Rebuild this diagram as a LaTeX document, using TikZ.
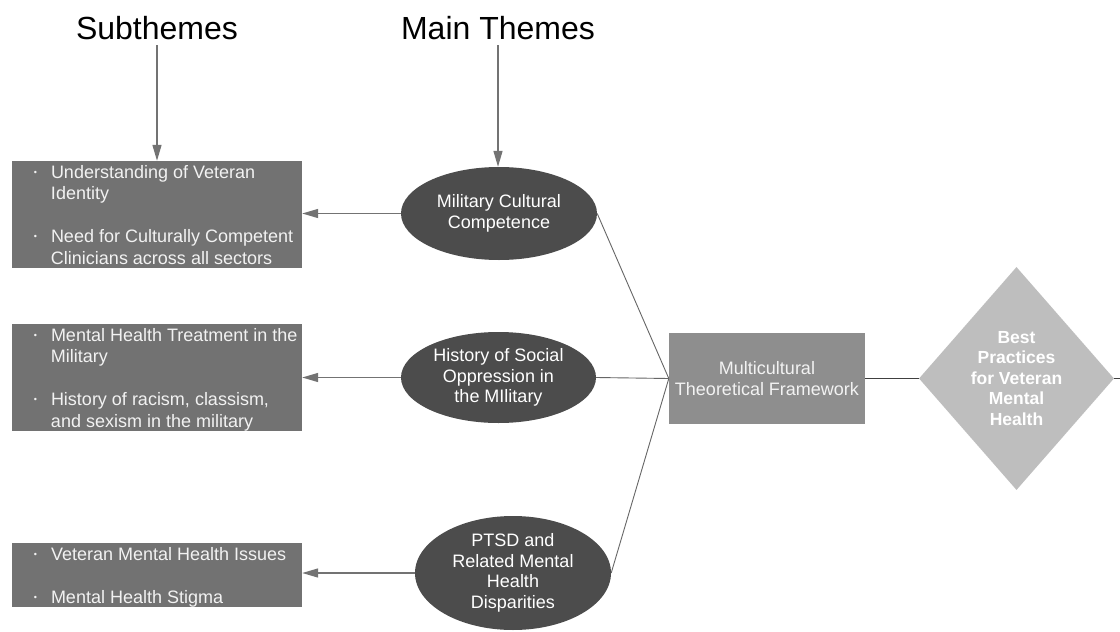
\documentclass[tikz,border=0pt]{standalone}
\usepackage{fontspec}
\setmainfont{Liberation Sans}
\usetikzlibrary{shapes.geometric,arrows.meta}
\definecolor{subbox}{HTML}{727272}
\definecolor{mainell}{HTML}{4C4C4C}
\definecolor{mtfbox}{HTML}{8E8E8E}
\definecolor{bestdia}{HTML}{BEBEBE}
\definecolor{arrowgray}{HTML}{737373}
\definecolor{boxtext}{HTML}{F2F2F2}
\newcommand{\bul}{\raisebox{0.3ex}{\fontsize{9}{9}\selectfont •}}
\begin{document}
\begin{tikzpicture}[x=1pt,y=-1pt,
  titletext/.style={font=\fontsize{32}{36}\selectfont, text=black, inner sep=0},
  subrect/.style={rectangle, fill=subbox, minimum width=290pt, inner sep=0},
  subtext/.style={anchor=west, inner sep=0, text=boxtext, font=\fontsize{18}{21.5}\selectfont},
  mainell/.style={ellipse, fill=mainell, minimum width=196pt, inner sep=0, text=white, align=center, font=\fontsize{18}{20.5}\selectfont},
  garrow/.style={draw=arrowgray, line width=1.4pt, -{Triangle[length=16pt,width=9pt]}},
  conv/.style={draw=black!60, line width=0.9pt},
]
\useasboundingbox (0,0) rectangle (1120,632);
\fill[white] (0,0) rectangle (1120,632);

% titles
\node[titletext] (tsub) at (157,28) {Subthemes};
\node[titletext] (tmain) at (498,28) {Main Themes};

% subtheme boxes
\node[subrect, minimum height=107pt] (b1) at (157,214.5) {};
\node[subtext] (b1t) at ([xshift=22pt,yshift=-2.5pt]b1.west) {\begin{tabular}{@{}p{17pt}@{}l@{}}
\bul & Understanding of Veteran\\
 & Identity\\[21.5pt]
\bul & Need for Culturally Competent\\
 & Clinicians across all sectors
\end{tabular}};

\node[subrect, minimum height=107pt] (b2) at (157,377.5) {};
\node[subtext] (b2t) at ([xshift=22pt,yshift=-2.5pt]b2.west) {\begin{tabular}{@{}p{17pt}@{}l@{}}
\bul & Mental Health Treatment in the\\
 & Military\\[21.5pt]
\bul & History of racism, classism,\\
 & and sexism in the military
\end{tabular}};

\node[subrect, minimum height=64pt] (b3) at (157,575) {};
\node[subtext] (b3t) at ([xshift=22pt,yshift=-2.5pt]b3.west) {\begin{tabular}{@{}p{17pt}@{}l@{}}
\bul & Veteran Mental Health Issues\\[21.5pt]
\bul & Mental Health Stigma
\end{tabular}};

% main theme ellipses
\node[mainell, minimum height=93pt] (e1) at (499,213.5) {Military Cultural\\Competence};
\node[mainell, minimum height=91pt, minimum width=195pt] (e2) at (498.5,377.5) {History of Social\\Oppression in\\the MIlitary};
\node[mainell, minimum height=114pt] (e3) at (513,573) {PTSD and\\Related Mental\\Health\\Disparities};

% framework box
\node[rectangle, fill=mtfbox, minimum width=196pt, minimum height=91pt, inner sep=0, text=boxtext, align=center, font=\fontsize{18}{21}\selectfont] (mtf) at (767,378.5) {Multicultural\\Theoretical Framework};

% best practices diamond
\node[diamond, fill=bestdia, minimum width=195pt, minimum height=223pt, inner sep=0, text=white, align=center, font=\bfseries\fontsize{17.5}{20.5}\selectfont] (best) at (1016.5,378.5) {Best\\Practices\\for Veteran\\Mental\\Health};
\coordinate (rightedge) at (1120,378.5);

% title arrows
\draw[garrow] (tsub.south |- 0,45) -- (b1.north -| tsub.south);
\draw[garrow] (tmain.south |- 0,45) -- (e1.north -| tmain.south);

% ellipse to box arrows
\draw[garrow] (e1.west) -- (b1.east |- e1.west);
\draw[garrow] (e2.west) -- (b2.east |- e2.west);
\draw[garrow] (e3.west) -- (b3.east |- e3.west);

% converging lines
\draw[conv] (e1.east) -- (mtf.west);
\draw[conv] (e2.east) -- (mtf.west);
\draw[conv] (e3.east) -- (mtf.west);

% framework to diamond
\draw[draw=black!75, line width=1.5pt] (mtf.east) -- (best.west);
\draw[draw=black!75, line width=1.5pt] (best.east) -- (rightedge);
\end{tikzpicture}
\end{document}
